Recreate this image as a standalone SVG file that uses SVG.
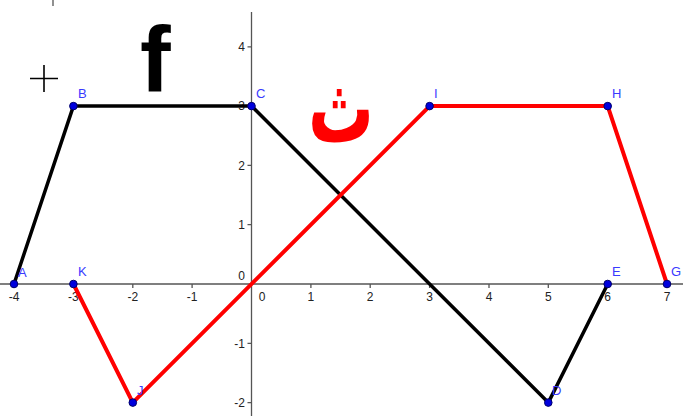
<svg xmlns="http://www.w3.org/2000/svg" width="683" height="416" viewBox="0 0 683 416">
<style>
.ax{stroke:#555;stroke-width:1.3;fill:none}
.tk{font-family:"Liberation Sans",Arial,sans-serif;font-size:12px;fill:#222}
.lb{font-family:"Liberation Sans",Arial,sans-serif;font-size:13px;fill:#3a3aff}
.blk{stroke:#000;stroke-width:3.5;fill:none;stroke-linejoin:round}
.red{stroke:#ff0000;stroke-width:4;fill:none;stroke-linejoin:round}
.pt{fill:#0000dd;stroke:#00006a;stroke-width:1}
</style>
<rect width="683" height="416" fill="#fff"/>
<g id="axes">
<line class="ax" x1="0" y1="284" x2="683" y2="284"/>
<line class="ax" x1="251.5" y1="12" x2="251.5" y2="416"/>
<line class="ax" x1="53" y1="0" x2="53" y2="6"/>
<g class="ax">
<path d="M14 284v4M73.4 284v4M132.8 284v4M192.1 284v4M310.9 284v4M370.2 284v4M429.6 284v4M489 284v4M548.3 284v4M607.7 284v4M667 284v4"/>
<path d="M247.5 46.8h4M247.5 106.1h4M247.5 165.4h4M247.5 224.7h4M247.5 343.3h4M247.5 402.6h4"/>
</g>
<g class="tk" text-anchor="middle">
<text x="14" y="301">-4</text><text x="73.4" y="301">-3</text><text x="132.8" y="301">-2</text><text x="192.1" y="301">-1</text>
<text x="262" y="301">0</text><text x="310.9" y="301">1</text><text x="370.2" y="301">2</text><text x="429.6" y="301">3</text>
<text x="489" y="301">4</text><text x="548.3" y="301">5</text><text x="607.7" y="301">6</text><text x="667" y="301">7</text>
</g>
<g class="tk" text-anchor="end">
<text x="245" y="51">4</text><text x="245" y="110">3</text><text x="245" y="169.5">2</text><text x="245" y="229">1</text>
<text x="245" y="280">0</text><text x="245" y="347.5">-1</text><text x="245" y="407">-2</text>
</g>
</g>
<g id="connectors">
<polyline class="blk" points="14,284 73.4,106.1 251.5,106.1 548.3,402.6 607.7,284"/>
<polyline class="red" points="73.4,284 132.8,402.6 429.6,106.1 607.7,106.1 667,284"/>
</g>
<g id="cross"><path d="M30 78.5h28M44 65v27" stroke="#000" stroke-width="1.6"/></g>
<g id="f"><text x="140" y="91" font-family="Liberation Sans,Arial,sans-serif" font-weight="bold" font-size="92" fill="#000">f</text></g>
<g id="tha"><text transform="translate(341,142) scale(0.8,1.2)" text-anchor="middle" font-family="DejaVu Sans,'Noto Sans',sans-serif" font-weight="bold" font-size="82" fill="#ff0000">ث</text></g>
<g id="A"><circle class="pt" cx="14" cy="284" r="3.8"/><text class="lb" x="18" y="277">A</text></g>
<g id="B"><circle class="pt" cx="73.4" cy="106.1" r="3.8"/><text class="lb" x="78" y="98">B</text></g>
<g id="C"><circle class="pt" cx="251.5" cy="106.1" r="3.8"/><text class="lb" x="256" y="98">C</text></g>
<g id="D"><circle class="pt" cx="548.3" cy="402.6" r="3.8"/><text class="lb" x="552" y="395">D</text></g>
<g id="E"><circle class="pt" cx="607.7" cy="284" r="3.8"/><text class="lb" x="612" y="276">E</text></g>
<g id="G"><circle class="pt" cx="667" cy="284" r="3.8"/><text class="lb" x="671" y="276">G</text></g>
<g id="H"><circle class="pt" cx="607.7" cy="106.1" r="3.8"/><text class="lb" x="612" y="98">H</text></g>
<g id="I"><circle class="pt" cx="429.6" cy="106.1" r="3.8"/><text class="lb" x="434" y="98">I</text></g>
<g id="J"><circle class="pt" cx="132.8" cy="402.6" r="3.8"/><text class="lb" x="137" y="395">J</text></g>
<g id="K"><circle class="pt" cx="73.4" cy="284" r="3.8"/><text class="lb" x="78" y="276">K</text></g>
</svg>
